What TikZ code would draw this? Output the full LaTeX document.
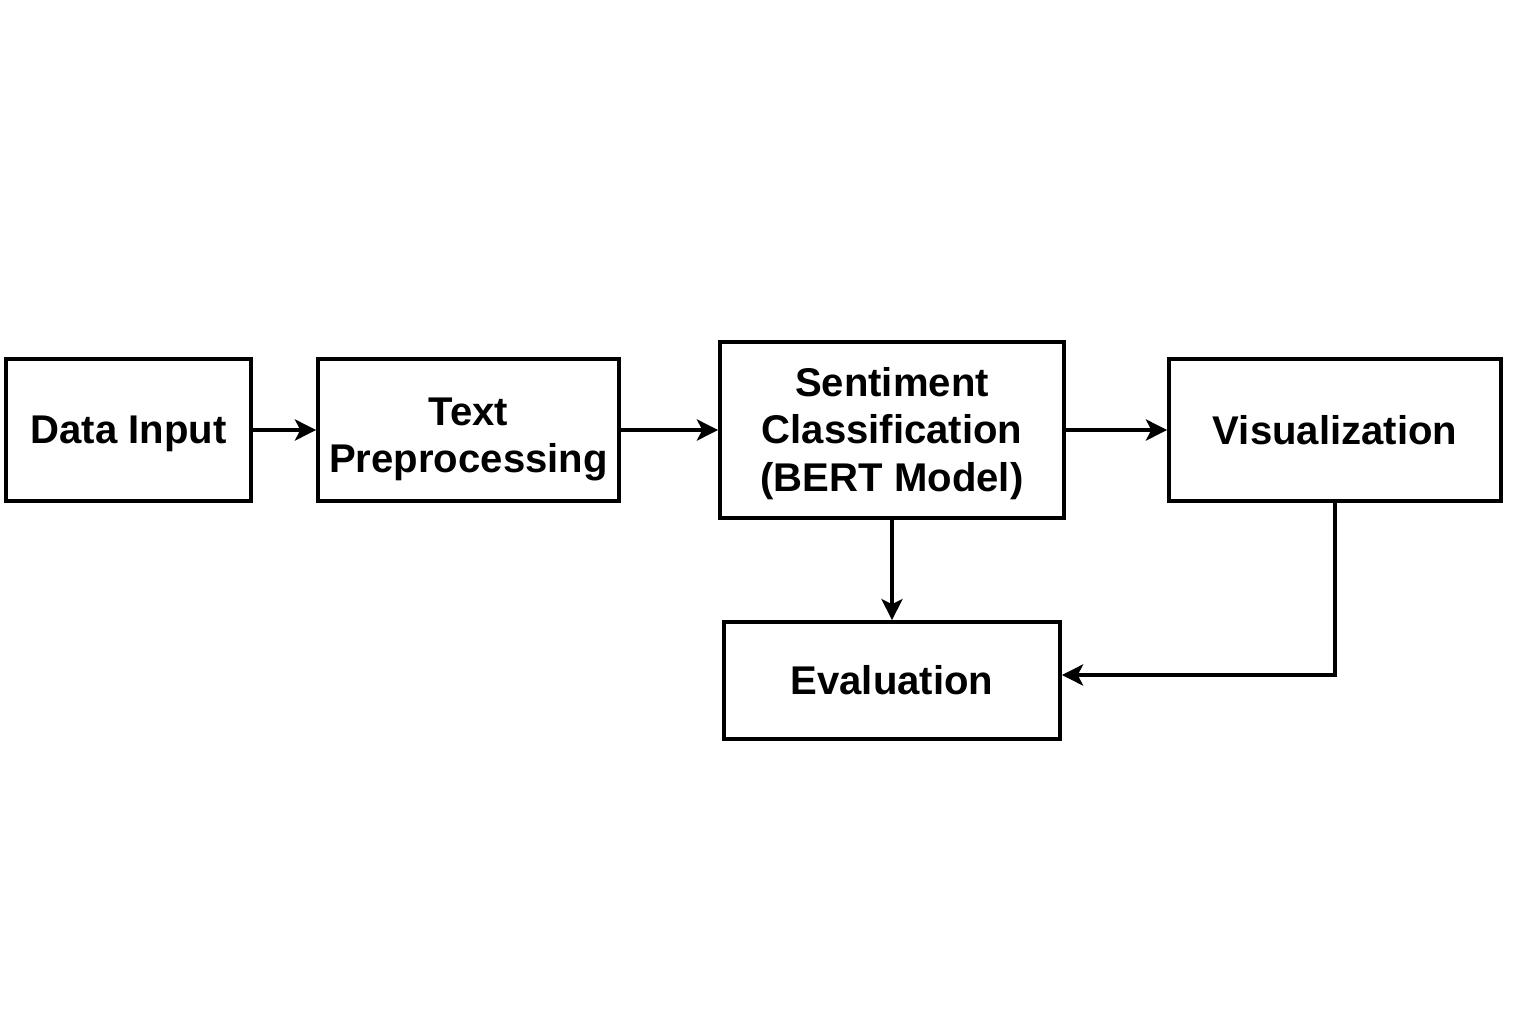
\documentclass[tikz,border=0pt]{standalone}
\usepackage{fontspec}
\setmainfont{Liberation Sans}
\usetikzlibrary{arrows.meta}
\begin{document}
\begin{tikzpicture}[x=0.01cm,y=-0.01cm,
  box/.style={draw=black, line width=1.05pt, inner sep=0pt},
  txt/.style={align=center, inner sep=0pt,
    font=\fontsize{11.4pt}{13.4pt}\selectfont\bfseries},
  conn/.style={line width=1.05pt, -{Stealth[length=6pt,width=6pt,inset=1.5pt]}}]
\useasboundingbox (0,0) rectangle (1536,1024);
\fill[white] (0,0) rectangle (1536,1024);
\node[box, minimum width=2.45cm, minimum height=1.42cm,
  label={[txt, yshift=-1.1pt]center:Data Input}] (din) at (128.5,430) {};
\node[box, minimum width=3.01cm, minimum height=1.42cm,
  label={[txt, yshift=-2.6pt]center:Text\\Preprocessing}] (pre) at (468.5,430) {};
\node[box, minimum width=3.44cm, minimum height=1.76cm,
  label={[txt, yshift=-1.0pt]center:Sentiment\\Classification\\(BERT Model)}] (sent) at (892,430) {};
\node[box, minimum width=3.32cm, minimum height=1.42cm,
  label={[txt]center:Visualization}] (vis) at (1335,430) {};
\node[box, minimum width=3.36cm, minimum height=1.17cm,
  label={[txt]center:Evaluation}] (eval) at (892,680.5) {};
\coordinate (corner) at (vis.south |- 0,675);
\draw[conn] (din) -- (pre);
\draw[conn] (pre) -- (sent);
\draw[conn] (sent) -- (vis);
\draw[conn] (sent) -- (eval);
\draw[conn] (vis.south) -- (corner) -- (eval.east |- corner);
\end{tikzpicture}
\end{document}
